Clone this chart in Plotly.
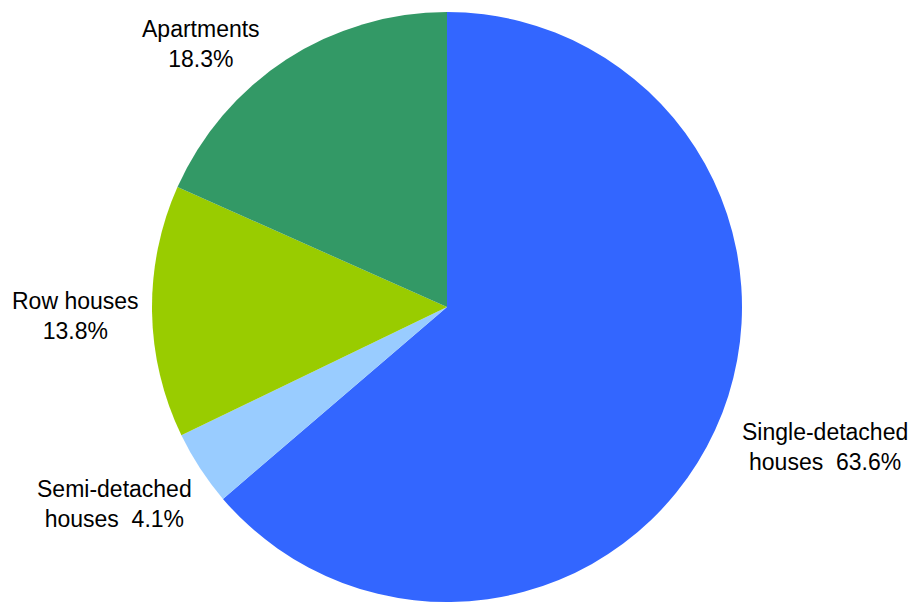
import plotly.graph_objects as go

categories = ["Single-detached houses", "Semi-detached houses", "Row houses", "Apartments"]
shares = [63.6, 4.1, 13.8, 18.3]
label_lines = [["Single-detached", "houses\u00a0 {v}%"],
               ["Semi-detached", "houses\u00a0 {v}%"],
               ["Row houses", "{v}%"],
               ["Apartments", "{v}%"]]
colors = ["#3366FF", "#99CCFF", "#99CC00", "#339966"]

W, H = 922, 602
OFF = 8  # page body offset
# label centres in window pixels
label_pos = [(824.5, 446.5), (114.5, 503.5), (75.5, 315.5), (200.5, 44.5)]

cx, cy, r = 447 - OFF, 307 - OFF, 295
fig = go.Figure(go.Pie(
    labels=categories, values=shares, sort=False, direction="clockwise", rotation=0,
    marker=dict(colors=colors, line=dict(width=0)),
    textinfo="none", hoverinfo="label+percent", showlegend=False,
    domain=dict(x=[0, 2 * cx / W], y=[(H - cy - r) / H, (H - cy + r) / H]),
))

anns = []
for lines, v, (px, py) in zip(label_lines, shares, label_pos):
    txt = "<br>".join(l.format(v=v) for l in lines)
    anns.append(dict(text=txt, x=(px - OFF) / W, y=1 - (py - OFF) / H, xref="paper", yref="paper",
                     xanchor="center", yanchor="middle", showarrow=False, align="center",
                     font=dict(family="Liberation Sans, Arial, sans-serif", size=23, color="#000000")))

fig.update_layout(width=W, height=H, margin=dict(l=0, r=0, t=0, b=0),
                  paper_bgcolor="white", plot_bgcolor="white", annotations=anns)

fig.write_html("out.html")
